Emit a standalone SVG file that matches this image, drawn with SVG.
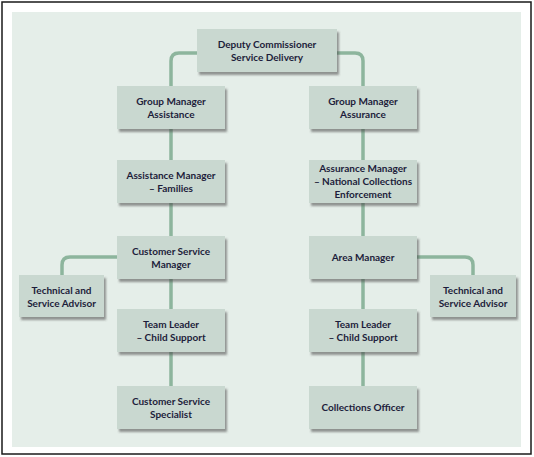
<svg xmlns="http://www.w3.org/2000/svg" width="534" height="457" viewBox="0 0 534 457">
<defs>
<filter id="sh" x="-10%" y="-10%" width="125%" height="135%">
<feDropShadow dx="2" dy="3" stdDeviation="1.3" flood-color="#4a4a4a" flood-opacity="0.55"/>
</filter>
<style>
.box{fill:#c9d8d0;filter:url(#sh)}
.t{font-family:Lato,"Liberation Sans",sans-serif;font-weight:bold;font-size:10px;fill:#1d1d3b;text-anchor:middle}
.c{fill:none;stroke:#8db59d;stroke-width:3.5}
</style>
</defs>
<rect x="0" y="0" width="534" height="457" fill="#ffffff"/>
<rect x="2" y="2" width="529" height="452" fill="#ffffff" stroke="#1a1a1a" stroke-width="1.5"/>
<rect x="12" y="12" width="509" height="435" fill="#e5eee9"/>
<g id="connectors">
<path class="c" d="M197,53 H179 Q171,53 171,61 V86"/>
<path class="c" d="M337,53 H355 Q363,53 363,61 V86"/>
<path class="c" d="M171,129 V386"/>
<path class="c" d="M363,129 V386"/>
<path class="c" d="M117,257 H70 Q62,257 62,265 V275"/>
<path class="c" d="M417,257 H465 Q473,257 473,265 V275"/>
</g>
<g id="deputy"><rect class="box" x="197" y="29" width="140" height="43"/><text class="t" x="267" y="48">Deputy Commissioner</text><text class="t" x="267" y="61">Service Delivery</text></g>
<g id="gm-assistance"><rect class="box" x="117" y="86" width="108" height="43"/><text class="t" x="171" y="105">Group Manager</text><text class="t" x="171" y="118">Assistance</text></g>
<g id="gm-assurance"><rect class="box" x="309" y="86" width="108" height="43"/><text class="t" x="363" y="105">Group Manager</text><text class="t" x="363" y="118">Assurance</text></g>
<g id="am-families"><rect class="box" x="117" y="160" width="108" height="43"/><text class="t" x="171" y="179">Assistance Manager</text><text class="t" x="171" y="192">– Families</text></g>
<g id="am-nce"><rect class="box" x="309" y="160" width="108" height="43"/><text class="t" x="363" y="171.5">Assurance Manager</text><text class="t" x="363" y="184.5">– National Collections</text><text class="t" x="363" y="197.5">Enforcement</text></g>
<g id="csm"><rect class="box" x="117" y="236" width="108" height="43"/><text class="t" x="171" y="255">Customer Service</text><text class="t" x="171" y="268">Manager</text></g>
<g id="area"><rect class="box" x="309" y="236" width="108" height="43"/><text class="t" x="363" y="261">Area Manager</text></g>
<g id="tsa-left"><rect class="box" x="19" y="275" width="85" height="42"/><text class="t" x="61.5" y="293.5">Technical and</text><text class="t" x="61.5" y="306.5">Service Advisor</text></g>
<g id="tsa-right"><rect class="box" x="430" y="275" width="86" height="42"/><text class="t" x="473" y="293.5">Technical and</text><text class="t" x="473" y="306.5">Service Advisor</text></g>
<g id="tl-left"><rect class="box" x="117" y="309" width="108" height="43"/><text class="t" x="171" y="328">Team Leader</text><text class="t" x="171" y="341">– Child Support</text></g>
<g id="tl-right"><rect class="box" x="309" y="309" width="108" height="43"/><text class="t" x="363" y="328">Team Leader</text><text class="t" x="363" y="341">– Child Support</text></g>
<g id="css"><rect class="box" x="117" y="386" width="108" height="43"/><text class="t" x="171" y="405">Customer Service</text><text class="t" x="171" y="418">Specialist</text></g>
<g id="co"><rect class="box" x="309" y="386" width="108" height="43"/><text class="t" x="363" y="411">Collections Officer</text></g>
</svg>
